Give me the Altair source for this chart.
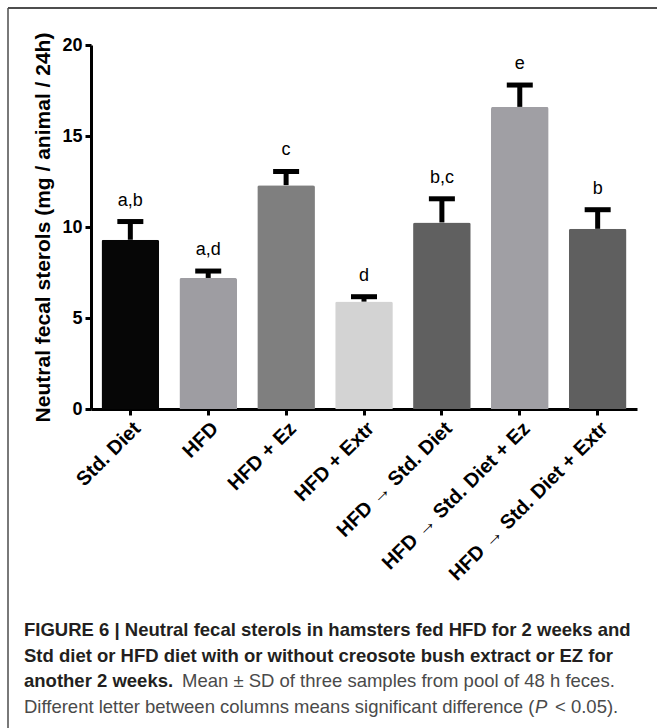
import altair as alt
import pandas as pd

# Treatment groups, bar heights (mean) and SD of three pooled samples
groups = [
    "Std. Diet",
    "HFD",
    "HFD + Ez",
    "HFD + Extr",
    "HFD \u2192 Std. Diet",
    "HFD \u2192 Std. Diet + Ez",
    "HFD \u2192 Std. Diet + Extr",
]
means = [9.3, 7.2, 12.3, 5.9, 10.25, 16.6, 9.9]
sds = [1.0, 0.38, 0.75, 0.27, 1.3, 1.2, 1.05]
letters = ["a,b", "a,d", "c", "d", "b,c", "e", "b"]
bar_colors = ["#060606", "#9e9da2", "#7f7f7f", "#d3d3d3", "#606060", "#a09fa4", "#5f5f5f"]

y_title = "Neutral fecal sterols (mg / animal / 24h)"
y_ticks = [0, 5, 10, 15, 20]

caption_bold = [
    "FIGURE 6 | Neutral fecal sterols in hamsters fed HFD for 2 weeks and",
    "Std diet or HFD diet with or without creosote bush extract or EZ for",
    "another 2 weeks.",
]
caption_regular_3 = "Mean \u00b1 SD of three samples from pool of 48 h feces."
caption_line_4 = ["Different letter between columns means significant difference (", "P", "< 0.05)."]

df = pd.DataFrame({
    "group": groups,
    "mean": means,
    "sd": sds,
    "letter": letters,
})
df["upper"] = df["mean"] + df["sd"]

FONT = "Liberation Sans"
W, H = 546, 364          # plot area
PAD = {"left": 91, "top": 45, "right": 20, "bottom": 319}

x_axis = alt.Axis(
    title=None,
    labelAngle=-45,
    labelFont=FONT,
    labelFontWeight="bold",
    labelFontSize=20,
    labelColor="black",
    labelPadding=3,
    labelLimit=0,
    domainColor="black",
    domainWidth=3,
    tickColor="black",
    tickWidth=3,
    tickSize=6,
)
y_axis = alt.Axis(
    values=y_ticks,
    title=y_title,
    titleFont=FONT,
    titleFontWeight="bold",
    titleFontSize=21,
    titleColor="black",
    titleAngle=270,
    titleAlign="center",
    titleBaseline="middle",
    titleX=-48,
    titleY=H / 2,
    labelFont=FONT,
    labelFontWeight="bold",
    labelFontSize=18,
    labelColor="black",
    labelPadding=3,
    domainColor="black",
    domainWidth=3,
    tickColor="black",
    tickWidth=3,
    tickSize=6,
    grid=False,
)
x_scale = alt.Scale(paddingInner=0.26, paddingOuter=0.135)
y_scale = alt.Scale(domain=[0, 20], nice=False)


def x_enc():
    return alt.X("group:N", sort=groups, scale=x_scale, axis=x_axis)


def y_enc(field):
    return alt.Y(field, scale=y_scale, axis=y_axis, title=y_title)


base = alt.Chart(df)

bars = base.mark_bar(cornerRadiusTopLeft=2, cornerRadiusTopRight=2).encode(
    x=x_enc(),
    y=y_enc("mean:Q"),
    color=alt.Color("group:N", scale=alt.Scale(domain=groups, range=bar_colors), legend=None),
)

# Upper SD whisker with its cap
stems = base.mark_rule(color="black", strokeWidth=5).encode(
    x=x_enc(),
    y=y_enc("mean:Q"),
    y2="upper:Q",
)
caps = base.mark_tick(color="black", thickness=5, size=26, opacity=1).encode(
    x=x_enc(),
    y=y_enc("upper:Q"),
)

# Significance letters above each whisker
sig = base.mark_text(font=FONT, fontSize=18, color="black", baseline="middle", dy=-21).encode(
    x=x_enc(),
    y=y_enc("upper:Q"),
    text="letter:N",
)

one = pd.DataFrame({"k": [0]})

# Figure frame (top and left edges)
frame_top = alt.Chart(one).mark_rule(color="#4d4d4d", strokeWidth=2).encode(
    x=alt.value(-83), x2=alt.value(W + 30), y=alt.value(-37), y2=alt.value(-37)
)
frame_left = alt.Chart(one).mark_rule(color="#4d4d4d", strokeWidth=1.5).encode(
    x=alt.value(-83), x2=alt.value(-83), y=alt.value(-37), y2=alt.value(H + PAD["bottom"] + 10)
)

CAP_X = -67
CAP_Y = [591, 616.5, 642, 667.5]
CAP_SIZE = 18.5
BOLD_COLOR = "#231f20"
REG_COLOR = "#4a4a4a"


def cap_text(text, x, y, weight="normal", style="normal", color=REG_COLOR):
    return alt.Chart(pd.DataFrame({"t": [text]})).mark_text(
        font=FONT, fontSize=CAP_SIZE, fontWeight=weight, fontStyle=style,
        align="left", baseline="alphabetic", color=color,
    ).encode(x=alt.value(x), y=alt.value(y), text="t:N")


captions = [
    cap_text(caption_bold[0], CAP_X, CAP_Y[0], "bold", color=BOLD_COLOR),
    cap_text(caption_bold[1], CAP_X, CAP_Y[1], "bold", color=BOLD_COLOR),
    cap_text(caption_bold[2], CAP_X, CAP_Y[2], "bold", color=BOLD_COLOR),
    cap_text(caption_regular_3, CAP_X + 158, CAP_Y[2]),
    cap_text(caption_line_4[0], CAP_X, CAP_Y[3]),
    cap_text(caption_line_4[1], CAP_X + 511, CAP_Y[3], style="italic"),
    cap_text(caption_line_4[2], CAP_X + 531, CAP_Y[3]),
]

chart = alt.layer(
    bars, stems, caps, sig, frame_top, frame_left, *captions
).properties(
    width=W,
    height=H,
    autosize=alt.AutoSizeParams(type="none"),
    padding=PAD,
    background="white",
).configure_view(stroke=None)

chart.save("out.html", embed_options={"renderer": "svg", "actions": False})
